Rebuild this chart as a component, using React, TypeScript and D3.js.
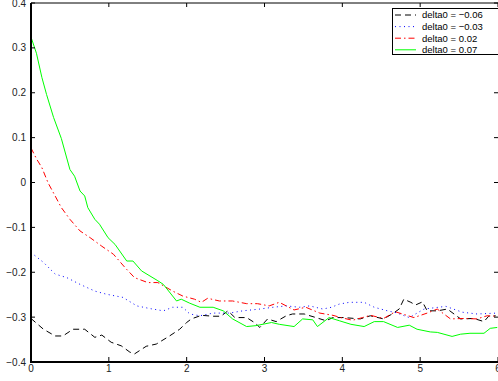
import React, { useEffect, useRef } from "react";
import * as d3 from "d3";

// readings of each curve: time (x) and value (y)
const blackT = [0, 0.16, 0.31, 0.41, 0.54, 0.69, 0.82, 0.91, 1.03, 1.16, 1.27, 1.33, 1.48, 1.61, 1.78, 1.91, 2.0, 2.06, 2.19, 2.34, 2.44, 2.53, 2.62, 2.77, 2.87, 2.94, 3.04, 3.15, 3.28, 3.36, 3.51, 3.66, 3.79, 3.88, 4.02, 4.23, 4.36, 4.53, 4.64, 4.73, 4.79, 4.88, 4.94, 5.03, 5.09, 5.22, 5.35, 5.52, 5.69, 5.82, 5.88, 5.97];
const blackY = [-0.303, -0.327, -0.342, -0.342, -0.327, -0.327, -0.345, -0.34, -0.356, -0.364, -0.378, -0.382, -0.365, -0.36, -0.342, -0.327, -0.312, -0.304, -0.296, -0.298, -0.298, -0.286, -0.301, -0.301, -0.312, -0.323, -0.304, -0.31, -0.297, -0.293, -0.293, -0.301, -0.308, -0.301, -0.301, -0.304, -0.297, -0.304, -0.293, -0.282, -0.26, -0.267, -0.273, -0.266, -0.286, -0.286, -0.282, -0.304, -0.303, -0.31, -0.298, -0.297];

const blueT = [0, 0.16, 0.31, 0.46, 0.63, 0.82, 0.97, 1.18, 1.36, 1.53, 1.7, 1.82, 1.95, 2.04, 2.17, 2.34, 2.55, 2.72, 2.94, 3.11, 3.28, 3.45, 3.58, 3.75, 3.86, 3.96, 4.09, 4.28, 4.41, 4.58, 4.69, 4.86, 5.05, 5.33, 5.54, 5.73, 5.99];
const blueY = [-0.156, -0.178, -0.204, -0.212, -0.227, -0.242, -0.249, -0.256, -0.275, -0.281, -0.286, -0.278, -0.278, -0.293, -0.297, -0.291, -0.291, -0.286, -0.282, -0.278, -0.275, -0.278, -0.275, -0.282, -0.278, -0.271, -0.267, -0.267, -0.278, -0.286, -0.29, -0.301, -0.282, -0.276, -0.289, -0.293, -0.291];

const redT = [0, 0.07, 0.14, 0.22, 0.31, 0.39, 0.5, 0.63, 0.76, 0.91, 1.06, 1.21, 1.33, 1.5, 1.63, 1.82, 1.95, 2.1, 2.19, 2.27, 2.42, 2.59, 2.77, 2.91, 3.06, 3.19, 3.38, 3.53, 3.71, 3.88, 3.98, 4.13, 4.26, 4.36, 4.53, 4.68, 4.92, 5.09, 5.22, 5.39, 5.56, 5.73, 5.86, 5.99];
const redY = [0.077, 0.053, 0.033, -0.001, -0.03, -0.056, -0.082, -0.108, -0.123, -0.142, -0.16, -0.19, -0.212, -0.223, -0.223, -0.242, -0.253, -0.26, -0.267, -0.258, -0.264, -0.264, -0.27, -0.27, -0.275, -0.267, -0.284, -0.278, -0.291, -0.296, -0.301, -0.307, -0.301, -0.296, -0.303, -0.288, -0.301, -0.291, -0.282, -0.304, -0.303, -0.304, -0.297, -0.298];

const greenT = [0, 0.07, 0.14, 0.2, 0.29, 0.39, 0.5, 0.56, 0.63, 0.69, 0.73, 0.82, 0.88, 0.99, 1.08, 1.23, 1.31, 1.42, 1.63, 1.7, 1.87, 1.93, 2.04, 2.17, 2.34, 2.47, 2.59, 2.77, 2.89, 3.09, 3.19, 3.38, 3.49, 3.62, 3.68, 3.83, 3.96, 4.11, 4.28, 4.41, 4.53, 4.71, 4.86, 4.96, 5.13, 5.22, 5.41, 5.52, 5.64, 5.82, 5.9, 5.99];
const greenY = [0.324, 0.288, 0.234, 0.196, 0.145, 0.098, 0.029, 0.014, -0.019, -0.03, -0.056, -0.082, -0.093, -0.123, -0.138, -0.175, -0.175, -0.197, -0.219, -0.227, -0.264, -0.26, -0.269, -0.278, -0.278, -0.286, -0.304, -0.321, -0.319, -0.312, -0.316, -0.321, -0.304, -0.306, -0.321, -0.301, -0.308, -0.316, -0.321, -0.31, -0.31, -0.323, -0.318, -0.327, -0.333, -0.334, -0.343, -0.338, -0.336, -0.336, -0.325, -0.323];

const xTicks = [0, 1, 2, 3, 4, 5, 6];
const yTicks = [-0.4, -0.3, -0.2, -0.1, 0, 0.1, 0.2, 0.3, 0.4];
const legendLabels = ["delta0 = \u22120.06", "delta0 = \u22120.03", "delta0 = 0.02", "delta0 = 0.07"];

const W = 498;
const H = 381;

const App: React.FC = () => {
  const svgRef = useRef<SVGSVGElement | null>(null);

  useEffect(() => {
    const svg = d3.select(svgRef.current);
    svg.selectAll("*").remove();

    const x = d3.scaleLinear().domain([0, 6]).range([31, 498]);
    const y = d3.scaleLinear().domain([-0.4, 0.4]).range([362, 3]);
    const font = "'Liberation Sans', Arial, Helvetica, sans-serif";

    const series = [
      { t: blackT, v: blackY, color: "#000000", dash: "6,4" },
      { t: blueT, v: blueY, color: "#0000ff", dash: "1,3.5" },
      { t: redT, v: redY, color: "#ff0000", dash: "6,3,1.5,3" },
      { t: greenT, v: greenY, color: "#00ff00", dash: null as string | null },
    ];

    const line = d3
      .line<[number, number]>()
      .x((d) => x(d[0]))
      .y((d) => y(d[1]));

    const plot = svg.append("g");
    series.forEach((s) => {
      const pts = s.t.map((t, i) => [t, s.v[i]] as [number, number]);
      const p = plot
        .append("path")
        .datum(pts)
        .attr("fill", "none")
        .attr("stroke", s.color)
        .attr("stroke-width", 1)
        .attr("d", line);
      if (s.dash) p.attr("stroke-dasharray", s.dash);
    });

    // axis box
    const x0 = x(0), x1 = x(6), yTop = y(0.4), yBot = y(-0.4);
    svg.append("line").attr("x1", x0).attr("x2", x1).attr("y1", yTop).attr("y2", yTop)
      .attr("stroke", "#000").attr("stroke-width", 1);
    svg.append("line").attr("x1", x0).attr("x2", x0).attr("y1", yTop).attr("y2", yBot)
      .attr("stroke", "#000").attr("stroke-width", 2);
    svg.append("line").attr("x1", x0 - 1).attr("x2", x1).attr("y1", yBot).attr("y2", yBot)
      .attr("stroke", "#000").attr("stroke-width", 2);

    // x ticks (inward, top and bottom)
    const gx = svg.append("g");
    xTicks.forEach((t) => {
      gx.append("line").attr("x1", x(t)).attr("x2", x(t)).attr("y1", yBot).attr("y2", yBot - 5)
        .attr("stroke", "#000");
      gx.append("line").attr("x1", x(t)).attr("x2", x(t)).attr("y1", yTop).attr("y2", yTop + 4)
        .attr("stroke", "#000");
      gx.append("text")
        .attr("x", x(t))
        .attr("y", yBot + 10)
        .attr("text-anchor", "middle")
        .style("font-family", font)
        .style("font-size", "10px")
        .style("fill", "#222")
        .text(d3.format("d")(t));
    });

    // y ticks (inward, left and right)
    const fmt = (v: number) => (v === 0 ? "0" : d3.format(".1f")(v).replace("-", "\u2212"));
    const gy = svg.append("g");
    yTicks.forEach((t) => {
      gy.append("line").attr("x1", x0).attr("x2", x0 + 4).attr("y1", y(t)).attr("y2", y(t))
        .attr("stroke", "#000");
      gy.append("line").attr("x1", x1).attr("x2", x1 - 4).attr("y1", y(t)).attr("y2", y(t))
        .attr("stroke", "#000");
      gy.append("text")
        .attr("x", x0 - 5)
        .attr("y", y(t) + 3.5)
        .attr("text-anchor", "end")
        .style("font-family", font)
        .style("font-size", "10px")
        .style("fill", "#222")
        .text(fmt(t));
    });

    // legend
    const lg = svg.append("g");
    lg.append("rect")
      .attr("x", 392.5)
      .attr("y", 8.5)
      .attr("width", 106)
      .attr("height", 46)
      .attr("fill", "#fff")
      .attr("stroke", "#000")
      .attr("stroke-width", 1);
    series.forEach((s, i) => {
      const cy = 15 + i * 11.6;
      const l = lg.append("line")
        .attr("x1", 395).attr("x2", 416).attr("y1", cy).attr("y2", cy)
        .attr("stroke", s.color).attr("stroke-width", 1);
      if (s.dash) l.attr("stroke-dasharray", s.dash);
      lg.append("text")
        .attr("x", 422)
        .attr("y", cy + 3.3)
        .style("font-family", font)
        .style("font-size", "9.5px")
        .style("fill", "#000")
        .text(legendLabels[i]);
    });
  }, []);

  return (
    <div style={{ position: "fixed", left: 0, top: 0, width: W, height: H, background: "#fff" }}>
      <svg ref={svgRef} width={W} height={H}></svg>
    </div>
  );
};

export default App;
